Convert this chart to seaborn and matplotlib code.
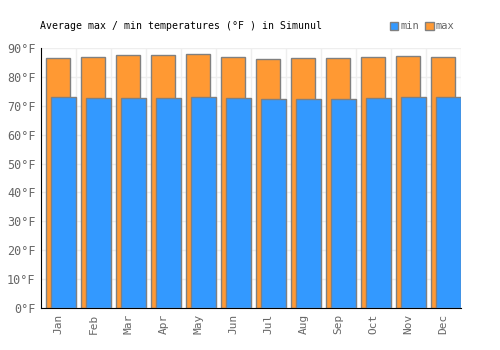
import matplotlib
matplotlib.use('Agg')
import matplotlib.pyplot as plt
import seaborn as sns
import numpy as np
from matplotlib.patches import Patch

# Monthly averages
months = ['Jan', 'Feb', 'Mar', 'Apr', 'May', 'Jun',
          'Jul', 'Aug', 'Sep', 'Oct', 'Nov', 'Dec']
max_temps = [86.5, 86.9, 87.6, 87.6, 87.9, 86.9, 86.2, 86.5, 86.5, 86.9, 87.2, 86.9]
min_temps = [73.0, 72.7, 72.7, 72.7, 73.0, 72.7, 72.3, 72.3, 72.3, 72.7, 73.0, 73.0]
y_ticks = [0, 10, 20, 30, 40, 50, 60, 70, 80, 90]

max_color = '#FF9933'
min_color = '#3399FF'
edge = '#808080'

sns.set_style('white')
plt.rcParams['font.family'] = ['DejaVu Sans Mono', 'DejaVu Sans']

fig = plt.figure(figsize=(5, 3.5), dpi=100)
ax = fig.add_axes([0.082, 0.12, 0.84, 0.743])

# max bars first (behind), then min bars shifted right
sns.barplot(x=months, y=max_temps, color=max_color, width=0.686,
            edgecolor=edge, linewidth=1, saturation=1, ax=ax, zorder=2)
n_max = len(ax.patches)
for p in ax.patches:
    p.set_x(p.get_x() - 0.014)

sns.barplot(x=months, y=min_temps, color=min_color, width=0.714,
            edgecolor=edge, linewidth=1, saturation=1, ax=ax, zorder=3)
for p in ax.patches[n_max:]:
    p.set_x(p.get_x() + 0.143)

ax.set_xlim(-0.5, 11.5)
ax.set_ylim(0, 90)
ax.set_yticks(y_ticks)
ax.set_yticklabels([f'{t}°F' for t in y_ticks], color='#666666', fontsize=8.5)
ax.set_xticks(range(len(months)))
ax.set_xticklabels(months, rotation=90, color='#666666', fontsize=8)
ax.set_xticks(np.arange(0.5, 11.6, 1), minor=True)
ax.tick_params(axis='both', which='both', length=0, pad=4)

ax.grid(axis='y', color='#eeeeee', linewidth=1, zorder=0)
ax.grid(axis='x', which='minor', color='#eeeeee', linewidth=1, zorder=0)
ax.grid(axis='x', which='major', visible=False)
ax.set_axisbelow(True)

for s in ['top', 'right']:
    ax.spines[s].set_visible(False)
ax.spines['left'].set_color('black')
ax.spines['bottom'].set_color('black')
ax.set_xlabel('')
ax.set_ylabel('')

fig.text(0.08, 0.925, 'Average max / min temperatures (°F ) in Simunul',
         fontsize=7.1, color='black', va='center')

handles = [Patch(facecolor=min_color, edgecolor=edge, label='min'),
           Patch(facecolor=max_color, edgecolor=edge, label='max')]
fig.legend(handles=handles, loc='center right', bbox_to_anchor=(0.928, 0.925),
           ncol=2, frameon=False, fontsize=7.5, handlelength=0.8, handleheight=0.8,
           handletextpad=0.2, columnspacing=0.6, labelcolor='#666666')

plt.savefig('out.png', dpi=100)
